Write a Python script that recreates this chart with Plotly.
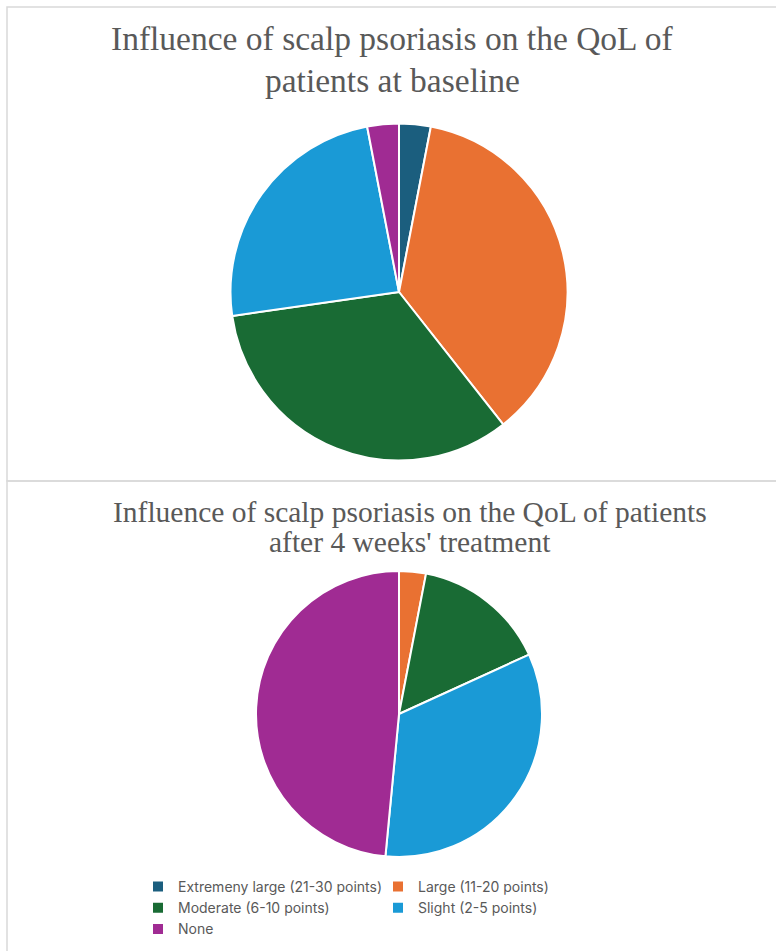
import plotly.graph_objects as go

labels = ["Extremeny large (21-30 points)", "Large (11-20 points)",
          "Moderate (6-10 points)", "Slight (2-5 points)", "None"]
baseline_counts = [1, 12, 11, 8, 1]
week4_counts = [0, 1, 5, 11, 16]
colors = ["#1B5E7E", "#E97132", "#196B34", "#1A9AD6", "#A02B93"]

title_top = ["Influence of scalp psoriasis on the QoL of", "patients at baseline"]
title_bottom = ["Influence of scalp psoriasis on the QoL of patients", "after 4 weeks' treatment"]

W, H = 776, 951
MR = 200            # right margin, narrows the plot area so the legend wraps after two entries
PW = W - MR         # plot-area width in px

def px_dom(cx, cy, r):
    return dict(x=[(cx - r) / PW, (cx + r) / PW], y=[(H - cy - r) / H, (H - cy + r) / H])

fig = go.Figure()
fig.add_trace(go.Pie(labels=labels, values=baseline_counts, sort=False, direction="clockwise",
                     rotation=0, textinfo="none", marker=dict(colors=colors, line=dict(color="white", width=2)),
                     domain=px_dom(399, 292, 168.5)))
fig.add_trace(go.Pie(labels=labels, values=week4_counts, sort=False, direction="clockwise",
                     rotation=0, textinfo="none", marker=dict(colors=colors, line=dict(color="white", width=2)),
                     domain=px_dom(399, 714, 143)))

ann = []
for i, t in enumerate(title_top):
    ann.append(dict(text=t, x=392 / PW, y=1 - (39 + 41 * i) / H, xref="paper", yref="paper",
                    showarrow=False, xanchor="center", yanchor="middle",
                    font=dict(family="Liberation Serif", size=33.5, color="#595959")))
for i, t in enumerate(title_bottom):
    ann.append(dict(text=t, x=410 / PW, y=1 - (512 + 30 * i) / H, xref="paper", yref="paper",
                    showarrow=False, xanchor="center", yanchor="middle",
                    font=dict(family="Liberation Serif", size=29.5, color="#595959")))

shapes = [
    dict(type="rect", xref="paper", yref="paper", x0=7 / PW, x1=(W + 10) / PW, y0=1 - 481 / H, y1=1 - 7 / H,
         line=dict(color="#D9D9D9", width=1.5), fillcolor="rgba(0,0,0,0)", layer="below"),
    dict(type="rect", xref="paper", yref="paper", x0=7 / PW, x1=(W + 10) / PW, y0=-0.01, y1=1 - 481 / H,
         line=dict(color="#D9D9D9", width=1.5), fillcolor="rgba(0,0,0,0)", layer="below"),
]

fig.update_layout(
    width=W, height=H, margin=dict(l=0, r=MR, t=0, b=0, autoexpand=False),
    paper_bgcolor="white", plot_bgcolor="white",
    annotations=ann, shapes=shapes,
    legend=dict(orientation="h", x=138 / PW, xanchor="left", y=1 - 871 / H, yanchor="top",
                traceorder="normal", entrywidth=195, entrywidthmode="pixels",
                font=dict(family="Inter", size=14, color="#595959"), bgcolor="rgba(0,0,0,0)"),
)
fig.write_html("out.html")
